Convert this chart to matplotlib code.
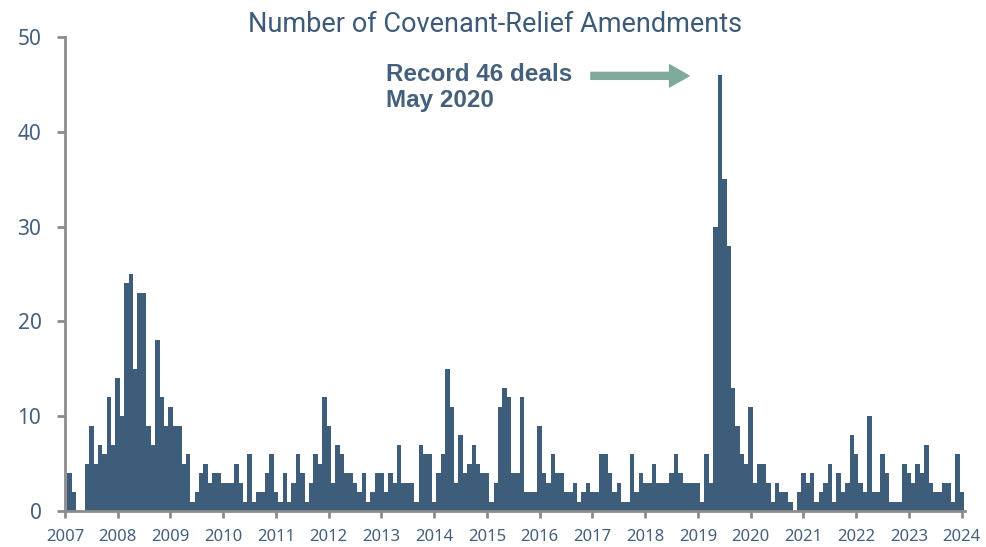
import numpy as np
import matplotlib
matplotlib.use("Agg")
import matplotlib.pyplot as plt

# Datos mensuales, enero 2007 - diciembre 2023
anios = list(range(2007, 2024))
enmiendas = [
    4, 2, 0, 0, 5, 9, 5, 7, 6, 12, 7, 14,        # 2007
    10, 24, 25, 15, 23, 23, 9, 7, 18, 12, 9, 11,  # 2008
    9, 9, 5, 6, 1, 2, 4, 5, 3, 4, 4, 3,           # 2009
    3, 3, 5, 3, 1, 6, 1, 2, 2, 4, 6, 2,           # 2010
    1, 4, 1, 3, 6, 4, 1, 3, 6, 5, 12, 9,          # 2011
    3, 7, 6, 4, 4, 3, 2, 4, 1, 2, 4, 4,           # 2012
    2, 4, 3, 7, 3, 3, 3, 1, 7, 6, 6, 1,           # 2013
    4, 6, 15, 11, 3, 8, 4, 5, 7, 5, 4, 4,         # 2014
    1, 3, 11, 13, 12, 4, 4, 12, 2, 2, 2, 9,       # 2015
    4, 3, 6, 4, 4, 2, 2, 3, 1, 2, 3, 2,           # 2016
    2, 6, 6, 4, 2, 3, 1, 1, 6, 2, 4, 3,           # 2017
    3, 5, 3, 3, 3, 4, 6, 4, 3, 3, 3, 3,           # 2018
    1, 6, 3, 30, 46, 35, 28, 13, 9, 6, 5, 11,     # 2019
    3, 5, 5, 3, 1, 3, 2, 2, 1, 0, 2, 4,           # 2020
    3, 4, 1, 2, 3, 5, 1, 4, 2, 3, 8, 6,           # 2021
    3, 2, 10, 2, 2, 6, 4, 1, 1, 1, 5, 4,          # 2022
    3, 5, 4, 7, 3, 2, 2, 3, 3, 1, 6, 2,           # 2023
]
ticks_x = list(range(2007, 2025))
ticks_y = [0, 10, 20, 30, 40, 50]
titulo = "Number of Covenant-Relief Amendments"
nota = "Record 46 deals\nMay 2020"

azul = "#3e5d7b"
texto = "#44607d"
gris = "#8c8c8c"
verde = "#7faa9b"

plt.rcParams['font.family'] = ['Noto Sans', 'DejaVu Sans']

fig = plt.figure(figsize=(9.86, 5.47), dpi=100)
ax = fig.add_axes([65 / 986, 36 / 547, 900 / 986, 474 / 547])

x = 2007 + (np.arange(len(enmiendas)) + 1) / 12
ax.bar(x, enmiendas, width=1 / 12 + 0.002, color=azul, linewidth=0)

ax.set_xlim(2007, 2024.063)
ax.set_ylim(0, 50)
ax.set_xticks(ticks_x)
ax.set_xticklabels([str(t) for t in ticks_x], fontsize=12, color=texto)
ax.set_yticks(ticks_y)
ax.set_yticklabels([str(t) for t in ticks_y], fontsize=15, color=texto)

for lado in ['top', 'right']:
    ax.spines[lado].set_visible(False)
for lado in ['left', 'bottom']:
    ax.spines[lado].set_color(gris)
    ax.spines[lado].set_linewidth(2)
ax.tick_params(axis='y', length=6, width=2, color=gris, pad=11)
ax.tick_params(axis='x', length=5, width=2, color=gris, pad=8)

fig.text(495 / 986, 1 - 25 / 547, titulo, ha='center', va='center',
         fontsize=19.5, color="#3d5a78",
         family=['Roboto', 'DejaVu Sans'])

ax.text(2013.08, 47.3, nota, ha='left', va='top', fontsize=17.5,
        fontweight='bold', color=texto, linespacing=1.2,
        family=['Liberation Sans', 'DejaVu Sans'])
ax.annotate("", xy=(2018.83, 45.9), xytext=(2016.97, 45.9),
            arrowprops=dict(arrowstyle='simple,head_length=1.4,head_width=1.6,tail_width=0.5',
                            color=verde, mutation_scale=10, shrinkA=0, shrinkB=0))

fig.savefig("out.png", dpi=100)
